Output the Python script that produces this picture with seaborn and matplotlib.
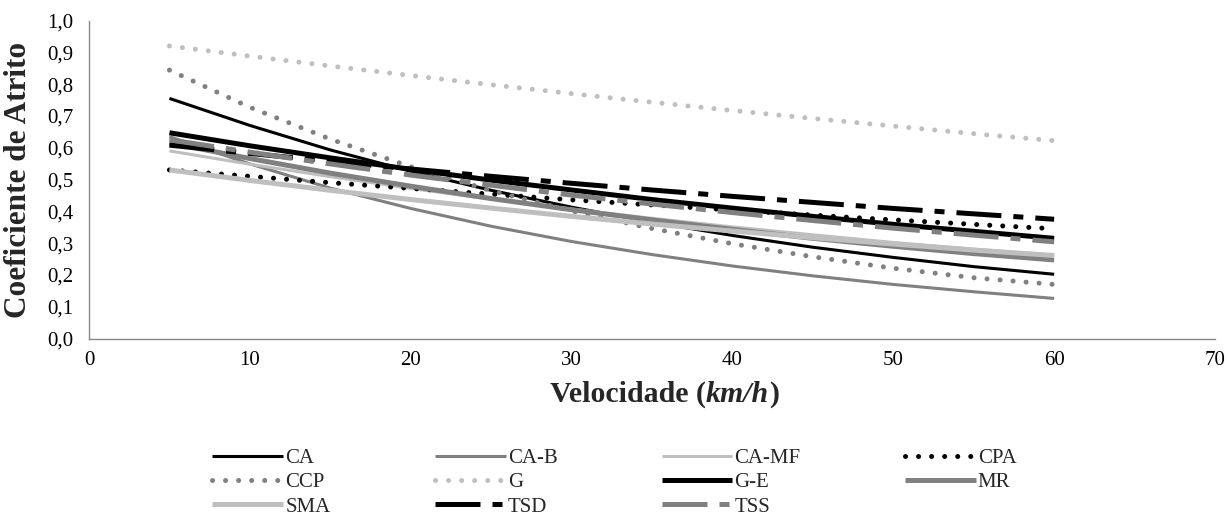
import numpy as np
import pandas as pd
import matplotlib
matplotlib.use("Agg")
import matplotlib.pyplot as plt
import seaborn as sns

# ---------------- data ----------------
speed = [5, 10, 15, 20, 25, 30, 35, 40, 45, 50, 55, 60]

ca    = [0.755, 0.670, 0.593, 0.526, 0.466, 0.413, 0.366, 0.324, 0.287, 0.255, 0.226, 0.202]
ca_b  = [0.635, 0.549, 0.473, 0.409, 0.353, 0.305, 0.264, 0.228, 0.197, 0.170, 0.147, 0.126]
ca_mf = [0.590, 0.548, 0.509, 0.472, 0.438, 0.407, 0.378, 0.351, 0.326, 0.302, 0.281, 0.262]
cpa   = [0.530, 0.510, 0.490, 0.472, 0.454, 0.436, 0.420, 0.404, 0.388, 0.373, 0.359, 0.345]
ccp   = [0.844, 0.727, 0.627, 0.540, 0.465, 0.401, 0.346, 0.298, 0.257, 0.221, 0.191, 0.170]
g     = [0.920, 0.888, 0.857, 0.827, 0.798, 0.770, 0.743, 0.717, 0.692, 0.668, 0.644, 0.622]
g_e   = [0.647, 0.606, 0.568, 0.532, 0.498, 0.467, 0.437, 0.410, 0.384, 0.359, 0.337, 0.315]
mr    = [0.615, 0.566, 0.520, 0.479, 0.440, 0.405, 0.373, 0.343, 0.315, 0.290, 0.267, 0.247]
sma   = [0.530, 0.497, 0.466, 0.437, 0.410, 0.384, 0.360, 0.338, 0.317, 0.297, 0.278, 0.261]
tsd   = [0.608, 0.582, 0.557, 0.533, 0.510, 0.488, 0.467, 0.447, 0.428, 0.409, 0.392, 0.375]
tss   = [0.625, 0.586, 0.549, 0.514, 0.482, 0.451, 0.423, 0.396, 0.371, 0.347, 0.325, 0.304]

series_names = ["CA", "CA-B", "CA-MF", "CPA", "CCP", "G", "G-E", "MR", "SMA", "TSD", "TSS"]
series_values = [ca, ca_b, ca_mf, cpa, ccp, g, g_e, mr, sma, tsd, tss]

x_ticks = [0, 10, 20, 30, 40, 50, 60, 70]
y_ticks = [0.0, 0.1, 0.2, 0.3, 0.4, 0.5, 0.6, 0.7, 0.8, 0.9, 1.0]
y_tick_labels = ["0,0", "0,1", "0,2", "0,3", "0,4", "0,5", "0,6", "0,7", "0,8", "0,9", "1,0"]

x_label_main = "Velocidade ("
x_label_unit = "km/h"
x_label_close = ")"
y_label = "Coeficiente de Atrito"

legend_order = ["CA", "CCP", "SMA", "CA-B", "G", "TSD", "CA-MF", "G-E", "TSS", "CPA", "MR"]

# ---------------- styles ----------------
BLACK = "#000000"
GREY = "#808080"
LIGHT = "#bfbfbf"
THIN = 2.2
THICK = 3.6
DOT = (0, (0.01, 2.6))
DASHDOT = (0, (9.0, 2.4, 2.0, 2.4))

styles = {
    "CA":    dict(color=BLACK, lw=THIN, ls="solid"),
    "CA-B":  dict(color=GREY,  lw=THIN, ls="solid"),
    "CA-MF": dict(color=LIGHT, lw=THIN, ls="solid"),
    "CPA":   dict(color=BLACK, lw=THICK, ls=DOT, round=True),
    "CCP":   dict(color=GREY,  lw=THICK, ls=DOT, round=True),
    "G":     dict(color=LIGHT, lw=THICK, ls=DOT, round=True),
    "G-E":   dict(color=BLACK, lw=THICK, ls="solid"),
    "MR":    dict(color=GREY,  lw=THICK, ls="solid"),
    "SMA":   dict(color=LIGHT, lw=THICK, ls="solid"),
    "TSD":   dict(color=BLACK, lw=THICK, ls=DASHDOT),
    "TSS":   dict(color=GREY,  lw=THICK, ls=DASHDOT),
}

sns.set_style("white")
plt.rcParams["font.family"] = ["Liberation Serif", "DejaVu Serif"]

fig = plt.figure(figsize=(12.28, 5.15), dpi=100)
ax = fig.add_axes([89 / 1228, 1 - 338.5 / 515, (1215 - 89) / 1228, (338.5 - 20.5) / 515])

handles = {}
for name, vals in zip(series_names, series_values):
    st = styles[name]
    n_before = len(ax.lines)
    sns.lineplot(x=speed, y=vals, ax=ax, color=st["color"], linewidth=st["lw"],
                 label=name, legend=False, sort=False)
    line = ax.lines[n_before]
    line.set_linestyle(st["ls"])
    if st.get("round"):
        line.set_dash_capstyle("round")
    else:
        line.set_dash_capstyle("butt")
    line.set_solid_capstyle("butt")
    handles[name] = line

ax.set_xlim(0, 70)
ax.set_ylim(0, 1.0)
ax.set_xticks(x_ticks)
ax.set_xticklabels([str(v) for v in x_ticks])
ax.set_yticks(y_ticks)
ax.set_yticklabels(y_tick_labels)
ax.grid(False)

for side in ["top", "right"]:
    ax.spines[side].set_visible(False)
for side in ["left", "bottom"]:
    ax.spines[side].set_color("#888888")
    ax.spines[side].set_linewidth(1.0)

ax.tick_params(axis="both", direction="out", length=5, width=1.0, color="#888888",
               labelsize=15, labelcolor="black")
ax.tick_params(axis="y", pad=6)
ax.tick_params(axis="x", pad=4)

ax.set_xlabel("")
ax.set_ylabel(y_label, fontsize=22.5, fontweight="bold")
ax.yaxis.set_label_coords(-0.05, 0.5)

# x label with bold-italic unit
t1 = fig.text(550 / 1228, 1 - 394 / 515, x_label_main, fontsize=21.5, fontweight="bold",
              ha="left", va="center")
t2 = ax.annotate(x_label_unit, xy=(1, 0), xycoords=t1, ha="left", va="bottom",
                 fontsize=21.5, fontweight="bold", fontstyle="italic", annotation_clip=False)
t3 = ax.annotate(x_label_close, xy=(1, 0), xycoords=t2, ha="left", va="bottom",
                 fontsize=21.5, fontweight="bold", annotation_clip=False)

leg_handles = [handles[n] for n in legend_order]
fig.legend(leg_handles, legend_order, loc="center", bbox_to_anchor=(0.5004, 0.063),
           ncol=4, frameon=False, fontsize=15, handlelength=3.4, handletextpad=0.1,
           columnspacing=5.0, labelspacing=0.22, borderpad=0.2)

fig.savefig("out.png", dpi=100)
